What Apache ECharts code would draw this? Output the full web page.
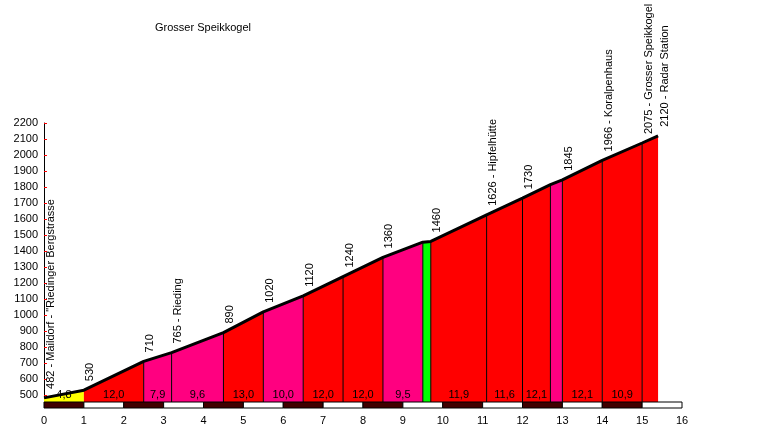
<!DOCTYPE html>
<html>
<head>
<meta charset="utf-8">
<title>Grosser Speikkogel</title>
<script src="https://cdn.jsdelivr.net/npm/echarts@6/dist/echarts.min.js"></script>
<style>
  html, body { margin: 0; padding: 0; background: #fff; }
  #chart { width: 780px; height: 434px; }
</style>
</head>
<body>
<div id="chart"></div>
<script>
// profile points (km, metres)
const distKm = [0, 1.0, 2.5, 3.2, 4.5, 5.5, 6.5, 7.5, 8.5, 9.5, 9.7, 11.1, 12.0, 12.7, 13.0, 14.0, 15.0, 15.4];
const elevM = [482, 530, 710, 765, 890, 1020, 1120, 1240, 1360, 1455, 1460, 1626, 1730, 1815, 1845, 1966, 2075, 2120];
const pointLabels = [
    '482 - Maildorf - "Riedinger Bergstrasse', '530', '710', '765 - Rieding', '890', '1020', '1120',
    '1240', '1360', '', '1460', '1626 - Hipfelhütte', '1730', '', '1845', '1966 - Koralpenhaus',
    '2075 - Grosser Speikkogel', '2120 - Radar Station'
];
const kmTicks = [0, 1, 2, 3, 4, 5, 6, 7, 8, 9, 10, 11, 12, 13, 14, 15, 16];
const chartTitle = 'Grosser Speikkogel';

const Y_MIN = 450;
const FONT = 'Arial, "Liberation Sans", sans-serif';

// gradient in % for each segment, rounded like the labels
function gradeOf(i) {
    const g = (elevM[i + 1] - elevM[i]) / ((distKm[i + 1] - distKm[i]) * 1000) * 100;
    return Math.round(g * 10) / 10;
}

function gradeColor(g) {
    if (g < 3) return '#00ff00';
    if (g < 6) return '#ffff00';
    if (g <= 10) return '#ff0080';
    return '#ff0000';
}

const segments = [];
for (let i = 0; i < distKm.length - 1; i++) {
    segments.push([distKm[i], elevM[i], distKm[i + 1], elevM[i + 1], gradeOf(i), i]);
}

const stripes = kmTicks.slice(0, -1).map(k => [k, k + 1]);

const chart = echarts.init(document.getElementById('chart'));

const option = {
    animation: false,
    backgroundColor: '#fff',
    title: {
        text: chartTitle,
        left: 155,
        top: 22,
        padding: 0,
        textStyle: { fontSize: 11, fontWeight: 'normal', color: '#000', fontFamily: FONT }
    },
    grid: { left: 44, right: 98, top: 123, bottom: 31 },
    xAxis: {
        type: 'value',
        min: 0,
        max: 16,
        interval: 1,
        axisLine: { show: false },
        axisTick: { show: false },
        splitLine: { show: false },
        axisLabel: { margin: 12, color: '#000', fontSize: 11, fontFamily: FONT }
    },
    yAxis: {
        type: 'value',
        min: Y_MIN,
        max: 2200,
        splitNumber: 17,
        minInterval: 100,
        maxInterval: 100,
        axisLine: { show: true, lineStyle: { color: '#000', width: 1 } },
        axisTick: { show: true, inside: true, length: 3, lineStyle: { color: '#ff0000' } },
        splitLine: { show: false },
        axisLabel: {
            showMinLabel: false, margin: 6, color: '#000', fontSize: 11, fontFamily: FONT,
            formatter: v => String(v)
        }
    },
    series: [
        {
            // coloured gradient segments
            type: 'custom',
            data: segments,
            encode: { x: [0, 2], y: [1, 3] },
            z: 2,
            renderItem: (params, api) => {
                const d1 = api.value(0), e1 = api.value(1), d2 = api.value(2), e2 = api.value(3);
                const g = api.value(4), idx = api.value(5);
                const b1 = api.coord([d1, Y_MIN]), t1 = api.coord([d1, e1]);
                const b2 = api.coord([d2, Y_MIN]), t2 = api.coord([d2, e2]);
                const children = [{
                    type: 'polygon',
                    shape: { points: [b1, t1, t2, b2] },
                    style: { fill: gradeColor(g), stroke: null }
                }];
                if (idx >= 2) {
                    children.push({
                        type: 'line',
                        shape: { x1: t1[0], y1: t1[1], x2: b1[0], y2: b1[1] },
                        style: { stroke: '#000', lineWidth: 1 }
                    });
                }
                if (d2 - d1 >= 0.5) {
                    children.push({
                        type: 'text',
                        x: (b1[0] + b2[0]) / 2,
                        y: b1[1] - 8,
                        style: {
                            text: g.toFixed(1).replace('.', ','),
                            align: 'center', verticalAlign: 'middle',
                            font: '11px ' + FONT, fill: '#000'
                        }
                    });
                }
                return { type: 'group', children };
            }
        },
        {
            // profile outline
            type: 'line',
            data: distKm.map((d, i) => [d, elevM[i]]),
            symbol: 'none',
            z: 3,
            lineStyle: { color: '#000', width: 3 }
        },
        {
            // vertical place labels
            type: 'custom',
            data: distKm.map((d, i) => [d, elevM[i], i]),
            encode: { x: 0, y: 1 },
            z: 4,
            renderItem: (params, api) => {
                const p = api.coord([api.value(0), api.value(1)]);
                const txt = pointLabels[api.value(2)];
                if (!txt) return null;
                return {
                    type: 'text',
                    x: p[0] + 1,
                    y: p[1] - 9,
                    rotation: Math.PI / 2,
                    style: {
                        text: txt, align: 'left', verticalAlign: 'top',
                        font: '11px ' + FONT, fill: '#000'
                    }
                };
            }
        },
        {
            // km stripe bar
            type: 'custom',
            data: stripes,
            encode: { x: [0, 1] },
            z: 5,
            clip: false,
            renderItem: (params, api) => {
                const k = api.value(0);
                const a = api.coord([k, Y_MIN]);
                const b = api.coord([api.value(1), Y_MIN]);
                return {
                    type: 'rect',
                    shape: { x: a[0], y: a[1] - 1, width: b[0] - a[0], height: 6 },
                    style: { fill: k % 2 === 0 ? '#400000' : '#ffffff', stroke: '#000', lineWidth: 1 }
                };
            }
        }
    ]
};

chart.setOption(option);
window.addEventListener('resize', () => chart.resize());
</script>
</body>
</html>
